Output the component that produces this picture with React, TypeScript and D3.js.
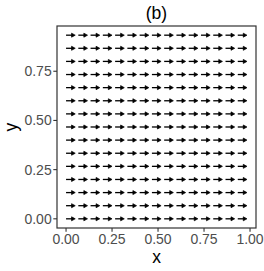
import React, { useEffect, useRef } from "react";
import * as d3 from "d3";

// arrow start positions (15 x 15 grid)
const xStarts = [0, 0.0667, 0.1333, 0.2, 0.2667, 0.3333, 0.4, 0.4667, 0.5333, 0.6, 0.6667, 0.7333, 0.8, 0.8667, 0.9333];
const yStarts = [0, 0.0667, 0.1333, 0.2, 0.2667, 0.3333, 0.4, 0.4667, 0.5333, 0.6, 0.6667, 0.7333, 0.8, 0.8667, 0.9333];
// every vector points right with the same length
const vecDx = 0.05;
const vecDy = 0;

const xTicks = [0, 0.25, 0.5, 0.75, 1];
const yTicks = [0, 0.25, 0.5, 0.75];
const tickFormat = d3.format(".2f");

const width = 264;
const height = 271;

export default function App() {
  const ref = useRef<SVGSVGElement>(null);

  useEffect(() => {
    const svg = d3.select(ref.current);
    svg.selectAll("*").remove();

    const font = "'Liberation Sans', Arial, sans-serif";
    const panel = { left: 57, right: 256, top: 26, bottom: 228 };

    // ggplot style 5% expansion around the data range
    const xMin = d3.min(xStarts)!;
    const xMax = d3.max(xStarts)! + vecDx;
    const yMin = d3.min(yStarts)!;
    const yMax = d3.max(yStarts)! + vecDy;
    const xPad = (xMax - xMin) * 0.05;
    const yPad = (yMax - yMin) * 0.05;

    const x = d3.scaleLinear().domain([xMin - xPad, xMax + xPad]).range([panel.left, panel.right]);
    const y = d3.scaleLinear().domain([yMin - yPad, yMax + yPad]).range([panel.bottom, panel.top]);

    svg.append("rect").attr("width", width).attr("height", height).attr("fill", "white");

    // arrows
    const data = d3.cross(yStarts, xStarts, (yy, xx) => ({ x: xx, y: yy }));
    const g = svg.append("g");
    data.forEach((d) => {
      const x0 = x(d.x);
      const y0 = y(d.y);
      const x1 = x(d.x + vecDx);
      const y1 = y(d.y + vecDy);
      const ang = Math.atan2(y1 - y0, x1 - x0);
      const hl = 4.2;
      const hw = 0.5;
      g.append("line")
        .attr("x1", x0).attr("y1", y0)
        .attr("x2", x1 - Math.cos(ang) * 2).attr("y2", y1 - Math.sin(ang) * 2)
        .attr("stroke", "black")
        .attr("stroke-width", 1.3);
      const pts = [
        [x1, y1],
        [x1 - hl * Math.cos(ang - hw), y1 - hl * Math.sin(ang - hw)],
        [x1 - hl * Math.cos(ang + hw), y1 - hl * Math.sin(ang + hw)],
      ];
      g.append("polygon")
        .attr("points", pts.map((p) => p.join(",")).join(" "))
        .attr("fill", "black")
        .attr("stroke", "black")
        .attr("stroke-width", 0.7)
        .attr("stroke-linejoin", "round");
    });

    // panel border
    svg.append("rect")
      .attr("x", panel.left)
      .attr("y", panel.top)
      .attr("width", panel.right - panel.left)
      .attr("height", panel.bottom - panel.top)
      .attr("fill", "none")
      .attr("stroke", "#333333")
      .attr("stroke-width", 1.2);

    // x axis
    const xa = svg.append("g");
    xTicks.forEach((t) => {
      xa.append("line")
        .attr("x1", x(t)).attr("x2", x(t))
        .attr("y1", panel.bottom).attr("y2", panel.bottom + 3.7)
        .attr("stroke", "#333333").attr("stroke-width", 1.1);
      xa.append("text")
        .attr("x", x(t)).attr("y", 244)
        .attr("text-anchor", "middle")
        .style("font-family", font).style("font-size", "14px")
        .attr("fill", "#4D4D4D")
        .text(tickFormat(t));
    });

    // y axis
    const ya = svg.append("g");
    yTicks.forEach((t) => {
      ya.append("line")
        .attr("x1", panel.left - 3.7).attr("x2", panel.left)
        .attr("y1", y(t)).attr("y2", y(t))
        .attr("stroke", "#333333").attr("stroke-width", 1.1);
      ya.append("text")
        .attr("x", panel.left - 5.3).attr("y", y(t) + 5)
        .attr("text-anchor", "end")
        .style("font-family", font).style("font-size", "14px")
        .attr("fill", "#4D4D4D")
        .text(tickFormat(t));
    });

    // titles
    svg.append("text")
      .attr("x", (panel.left + panel.right) / 2).attr("y", 19)
      .attr("text-anchor", "middle")
      .style("font-family", font).style("font-size", "17.5px")
      .text("(b)");

    svg.append("text")
      .attr("x", (panel.left + panel.right) / 2).attr("y", 263)
      .attr("text-anchor", "middle")
      .style("font-family", font).style("font-size", "17.5px")
      .text("x");

    svg.append("text")
      .attr("transform", `translate(17,${(panel.top + panel.bottom) / 2}) rotate(-90)`)
      .attr("text-anchor", "middle")
      .style("font-family", font).style("font-size", "17.5px")
      .text("y");
  }, []);

  return (
    <svg
      ref={ref}
      width={width}
      height={height}
      style={{ position: "absolute", left: 0, top: 0 }}
    />
  );
}
